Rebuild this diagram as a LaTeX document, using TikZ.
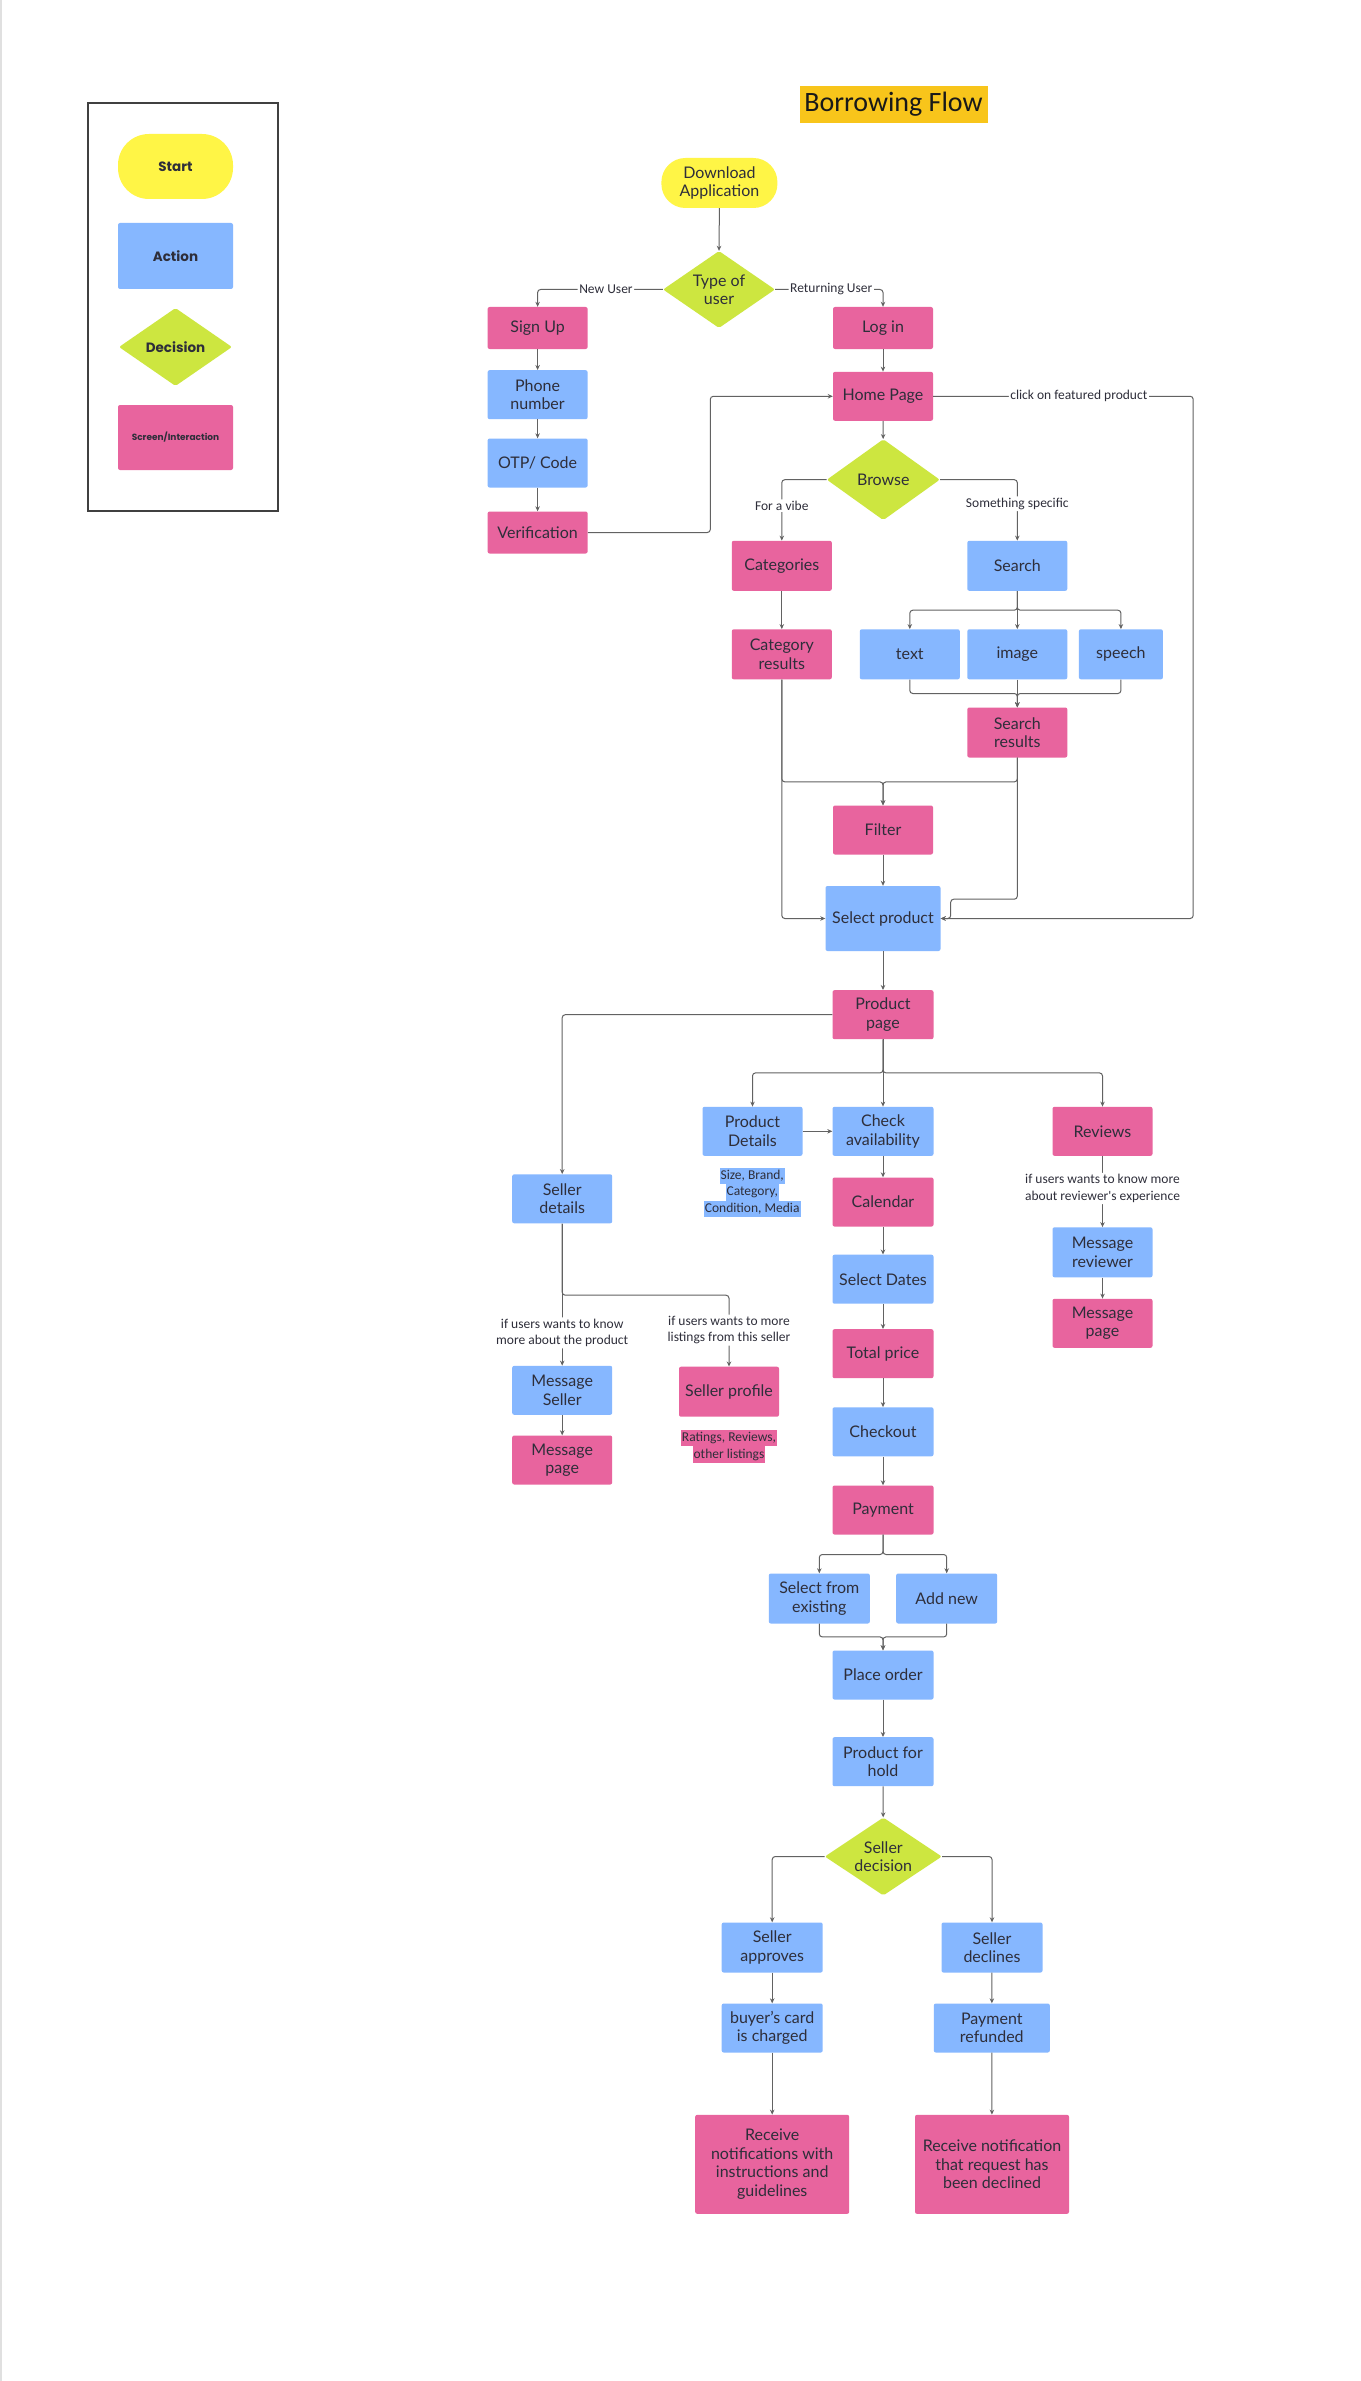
\documentclass[tikz,border=0pt]{standalone}
\usepackage{fontspec}
\setmainfont{Lato}
\newfontfamily\labfont{Carlito}
\newfontfamily\titfont{Carlito}
\newfontfamily\legfont{Poppins}
\usetikzlibrary{shapes.geometric,arrows.meta}
\definecolor{pinkc}{HTML}{E8649E}
\definecolor{bluec}{HTML}{86B7FF}
\definecolor{greenc}{HTML}{CDE640}
\definecolor{yellowc}{HTML}{FFF546}
\definecolor{titc}{HTML}{F8C51B}
\definecolor{txtc}{HTML}{2E2E3A}
\definecolor{linec}{HTML}{626262}
\newcommand{\nodef}{\fontsize{16}{18.5}\selectfont}
\newcommand{\labf}{\labfont\fontsize{13.5}{16.5}\selectfont}
\tikzset{
  wh/.style 2 args={minimum width=#1pt, minimum height=#2pt},
  box/.style={rectangle, rounded corners=2pt, inner sep=2pt, align=center, text=txtc, font=\nodef},
  screen/.style={box, fill=pinkc},
  action/.style={box, fill=bluec},
  startbox/.style={box, fill=yellowc},
  decision/.style={diamond, aspect=1.45, fill=greenc, inner sep=0pt, align=center, text=txtc, font=\nodef, rounded corners=2pt},
  conn/.style={draw=linec, line width=1pt, rounded corners=3pt, -{Stealth[length=5pt,width=4.5pt]}},
  lbl/.style={fill=white, inner sep=1.5pt, font=\labf, text=txtc, align=center},
  note/.style={inner xsep=1pt, inner ysep=0pt, minimum height=16.5pt, font=\labf, text=txtc},
  legtext/.style={font=\legfont\bfseries\fontsize{13.5}{16}\selectfont}
}
\begin{document}
\begin{tikzpicture}[x=1pt,y=-1pt]
\useasboundingbox (0,0) rectangle (1360,2381);
\fill[white] (0,0) rectangle (1360,2381);
\draw[draw=black!12, line width=1.5pt] (1,0) -- (1,2381);

% legend
\node[draw=black!75, line width=1.2pt, wh={190}{408}] (legend) at (183,307) {};
\node[startbox, rounded corners=31pt, wh={115}{65}, legtext] (lstart) at (175.5,166.5) {Start};
\node[action, wh={115}{66}, legtext] (laction) at (175.5,256) {Action};
\node[decision, wh={113}{78}, legtext] (ldec) at (175.5,347) {Decision};
\node[screen, wh={115}{65}, font=\legfont\bfseries\fontsize{9}{11}\selectfont] (lscreen) at (175.5,437.5) {Screen/Interaction};

% title
\node[fill=titc, wh={188}{37}, inner sep=0pt, font=\titfont\fontsize{28}{30}\selectfont, text=black!90] (title) at (893.5,104.3) {Borrowing Flow};

% nodes
\node[startbox, rounded corners=24pt, wh={116}{50}] (download) at (719.4,183) {Download\\Application};
\node[decision, wh={112}{77}] (typeuser) at (719,289.5) {Type of\\user};
\node[screen, wh={100}{42}] (signup) at (537.6,328) {Sign Up};
\node[screen, wh={100}{42}] (login) at (883,328) {Log in};
\node[action, wh={100}{49}] (phone) at (537.6,394.7) {Phone\\number};
\node[action, wh={100}{49}] (otp) at (537.6,463) {OTP/ Code};
\node[screen, wh={100}{42}] (verif) at (537.6,532.5) {Verification};
\node[screen, wh={100}{49}] (home) at (883,396.3) {Home Page};
\node[decision, wh={113}{81}] (browse) at (883.3,479.7) {Browse};
\node[screen, wh={100}{50}] (categories) at (781.8,565.8) {Categories};
\node[action, wh={100}{50}] (search) at (1017.3,565.8) {Search};
\node[screen, wh={100}{50}] (catres) at (781.8,654.3) {Category\\results};
\node[action, wh={100}{50}] (textn) at (909.8,654.3) {text};
\node[action, wh={100}{50}] (image) at (1017.3,654.3) {image};
\node[action, wh={84}{50}] (speech) at (1120.9,654.3) {speech};
\node[screen, wh={100}{50}] (searchres) at (1017.3,732.5) {Search\\results};
\node[screen, wh={100}{49}] (filter) at (883,830) {Filter};
\node[action, wh={115}{65}] (selprod) at (883,918.5) {Select product};
\node[screen, wh={101}{49}] (prodpage) at (883,1014.7) {Product\\page};
\node[action, wh={100}{49}] (proddet) at (752.5,1131.3) {Product\\Details};
\node[action, wh={101}{49}] (checkav) at (883,1131.3) {Check\\availability};
\node[screen, wh={100}{49}] (reviews) at (1102.5,1131.3) {Reviews};
\node[action, wh={100}{49}] (sellerdet) at (562.2,1198.8) {Seller\\details};
\node[screen, wh={101}{49}] (calendar) at (883,1202) {Calendar};
\node[action, wh={101}{49}] (seldates) at (883,1279.2) {Select Dates};
\node[screen, wh={101}{49}] (total) at (883,1353.7) {Total price};
\node[action, wh={101}{49}] (checkout) at (883,1431.8) {Checkout};
\node[screen, wh={101}{49}] (payment) at (883,1510) {Payment};
\node[action, wh={100}{49}] (msgseller) at (562.2,1390.3) {Message\\Seller};
\node[screen, wh={100}{49}] (msgpageL) at (562.2,1460) {Message\\page};
\node[screen, wh={100}{50}] (sellprof) at (729,1391.7) {Seller profile};
\node[action, wh={100}{50}] (msgrev) at (1102.5,1252.3) {Message\\reviewer};
\node[screen, wh={100}{49}] (msgpageR) at (1102.5,1323.3) {Message\\page};
\node[action, wh={101}{50}] (selexist) at (819.3,1598.5) {Select from\\existing};
\node[action, wh={101}{50}] (addnew) at (946.7,1598.5) {Add new};
\node[action, wh={101}{49}] (placeorder) at (883,1675) {Place order};
\node[action, wh={101}{49}] (hold) at (883,1761.7) {Product for\\hold};
\node[decision, wh={117}{78}] (sellerdec) at (883.3,1856.5) {Seller\\decision};
\node[action, wh={101}{50}] (approves) at (772.2,1947.5) {Seller\\approves};
\node[action, wh={101}{50}] (declines) at (992,1947.5) {Seller\\declines};
\node[action, wh={101}{49}] (charged) at (772.2,2028) {buyer's card\\is charged};
\node[action, wh={116}{49}] (refunded) at (991.8,2028) {Payment\\refunded};
\node[screen, wh={154}{99}] (notifyA) at (772.2,2164.3) {Receive\\notifications with\\instructions and\\guidelines};
\node[screen, wh={154}{99}] (notifyD) at (992,2164.3) {Receive notification\\that request has\\been declined};

% notes
\node[note, fill=bluec] (nd1) at (752.2,1176) {Size, Brand,};
\node[note, fill=bluec] (nd2) at (752.2,1192.5) {Category,};
\node[note, fill=bluec] (nd3) at (752.2,1209) {Condition, Media};
\node[note, fill=pinkc] (nr1) at (729,1438) {Ratings, Reviews,};
\node[note, fill=pinkc] (nr2) at (729,1454.5) {other listings};

% connectors
\draw[conn] (download.south) -- (typeuser.north);
\draw[conn] (typeuser.west) -| node[lbl, pos=0.227] {New User} (signup.north);
\draw[conn] (typeuser.east) -| node[lbl, pos=0.26] {Returning User} (login.north);
\draw[conn] (signup) -- (phone);
\draw[conn] (phone) -- (otp);
\draw[conn] (otp) -- (verif);
\draw[conn] (login) -- (home);
\draw[conn] (verif.east) -- ++(122.5,0) |- (home.west);
\draw[conn] (home.east) -- node[lbl, pos=0.56] {click on featured product} ++(260,0) |- (selprod.east);
\draw[conn] (home) -- (browse);
\draw[conn] (browse.west) -| node[lbl, pos=0.712] {For a vibe} (categories.north);
\draw[conn] (browse.east) -| node[lbl, pos=0.698] {Something specific} (search.north);
\draw[conn] (categories) -- (catres);
\draw[conn] (search) -- (image);
\draw[conn] (search.south) -- ++(0,19.2) -| (textn.north);
\draw[conn] (search.south) -- ++(0,19.2) -| (speech.north);
\draw[conn] (textn.south) -- ++(0,14) -| (searchres.north);
\draw[conn] (speech.south) -- ++(0,14) -| (searchres.north);
\draw[conn] (image) -- (searchres);
\draw[conn] (catres.south) |- (selprod.west);
\draw[conn] (catres.south) -- ++(0,102.4) -| (filter.north);
\draw[conn] (searchres.south) -- ++(0,24.2) -| (filter.north);
\draw[conn] (searchres.south) -- ++(0,141.5) -- ++(-66.6,0) |- (selprod.east);
\draw[conn] (filter) -- (selprod);
\draw[conn] (selprod) -- (prodpage);
\draw[conn] (prodpage.west) -| (sellerdet.north);
\draw[conn] (prodpage) -- (checkav);
\draw[conn] (prodpage.south) -- ++(0,33.5) -| (proddet.north);
\draw[conn] (prodpage.south) -- ++(0,33.5) -| (reviews.north);
\draw[conn] (proddet) -- (checkav);
\draw[conn] (checkav) -- (calendar);
\draw[conn] (calendar) -- (seldates);
\draw[conn] (seldates) -- (total);
\draw[conn] (total) -- (checkout);
\draw[conn] (checkout) -- (payment);
\draw[conn] (reviews) -- node[lbl, pos=0.457] {if users wants to know more\\about reviewer's experience} (msgrev);
\draw[conn] (msgrev) -- (msgpageR);
\draw[conn] (sellerdet) -- node[lbl, pos=0.77] {if users wants to know\\more about the product} (msgseller);
\draw[conn] (sellerdet.south) -- ++(0,71.7) -| node[lbl, pos=0.745] {if users wants to more\\listings from this seller} (sellprof.north);
\draw[conn] (msgseller) -- (msgpageL);
\draw[conn] (payment.south) -- ++(0,19.8) -| (selexist.north);
\draw[conn] (payment.south) -- ++(0,19.8) -| (addnew.north);
\draw[conn] (selexist.south) -- ++(0,13.2) -| (placeorder.north);
\draw[conn] (addnew.south) -- ++(0,13.2) -| (placeorder.north);
\draw[conn] (placeorder) -- (hold);
\draw[conn] (hold) -- (sellerdec);
\draw[conn] (sellerdec.west) -| (approves.north);
\draw[conn] (sellerdec.east) -| (declines.north);
\draw[conn] (approves) -- (charged);
\draw[conn] (charged) -- (notifyA);
\draw[conn] (declines) -- (refunded);
\draw[conn] (refunded) -- (notifyD);
\end{tikzpicture}
\end{document}
